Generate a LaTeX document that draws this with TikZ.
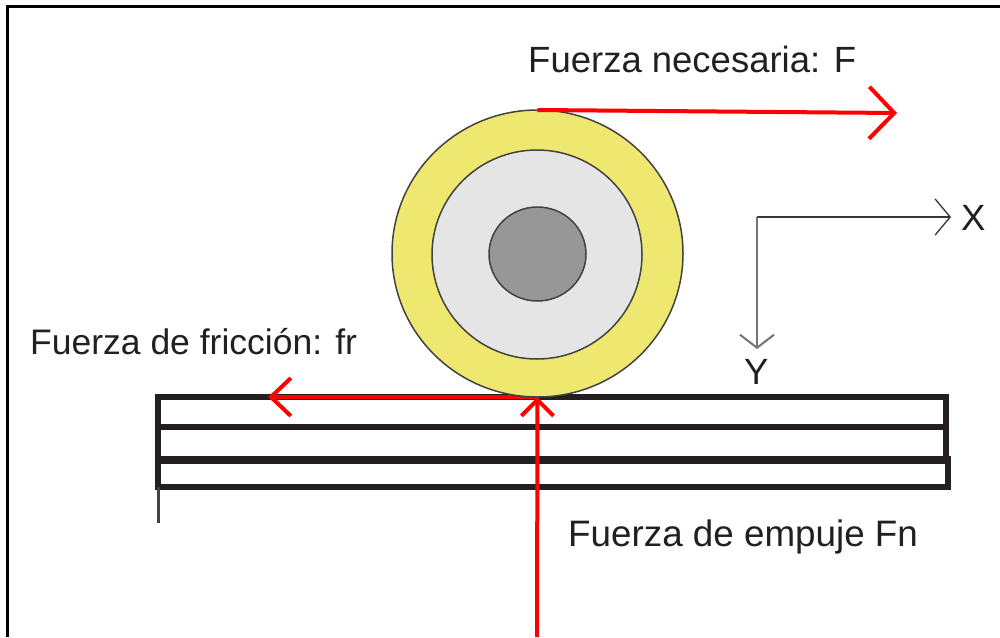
\documentclass[tikz,border=0pt]{standalone}
\usepackage{fontspec}
\setmainfont{Liberation Sans}
\usetikzlibrary{arrows.meta,shapes.geometric}
\definecolor{wheelyellow}{HTML}{EEE870}
\definecolor{wheelgrey}{HTML}{E5E5E5}
\definecolor{coregrey}{HTML}{979797}
\definecolor{plateblack}{HTML}{231F20}
\definecolor{forcered}{HTML}{FF0000}
\tikzset{
  plate/.style={draw=plateblack,line width=5.5pt,line cap=rect},
  ring/.style={draw=plateblack!85,line width=1.5pt,ellipse,inner sep=0pt,outer sep=0pt},
  force/.style={draw=forcered,line width=4pt},
  lbl/.style={inner sep=0pt,anchor=base west,text=plateblack,font=\fontsize{36.5}{40}\selectfont},
}
\begin{document}
\begin{tikzpicture}[x=1pt,y=-1pt]
\useasboundingbox (0,0) rectangle (1000,637);
% frame
\coordinate (fbl) at (7.5,637);
\coordinate (ftl) at (7.5,6.5);
\coordinate (ftr) at (1000,6.5);
\draw[black,line width=3pt] (fbl) -- (ftl) -- (ftr);
% plates
\coordinate (p1l) at (158,397); \coordinate (p1r) at (946,397);
\coordinate (p2l) at (158,427); \coordinate (p2r) at (946,427);
\coordinate (p3l) at (158,460); \coordinate (p3m) at (946,460); \coordinate (p3r) at (948,460);
\coordinate (p3a) at (156,460); \coordinate (p3b) at (950.5,460);
\coordinate (p4l) at (158,487); \coordinate (p4r) at (948,487);
\coordinate (tail) at (158,523);
\draw[plate] (p1l) -- (p1r) -- (p3m);
\draw[plate] (p1l) -- (p4l);
\draw[plate,line cap=butt] (p2l) -- (p2r);
\draw[plate,line cap=butt,line width=7.5pt] (p3a) -- (p3b);
\draw[plate] (p4l) -- (p4r) -- (p3r);
\draw[draw=plateblack!85,line width=3pt] (p4l) -- (tail);
% friction arrow
\coordinate (contact) at (537,397);
\coordinate (frtip) at (268,397);
\draw[force,-{Straight Barb[length=20pt,width=38pt]}] (contact) -- (frtip);
% wheel
\node[ring,fill=wheelyellow,minimum width=291pt,minimum height=287pt] (wheel) at (537.5,253.5) {};
\node[ring,fill=wheelgrey,minimum width=210pt,minimum height=209pt] (inner) at (537,254.5) {};
\node[ring,fill=coregrey,minimum width=97pt,minimum height=94pt] (core) at (537.5,254) {};
% forces
\coordinate (ftip) at (897,113);
\coordinate (fnbase) at (537,637);
\draw[force,-{Straight Barb[length=25pt,width=52pt]}] (wheel.north) -- (ftip);
\draw[force,-{Straight Barb[length=16pt,width=32pt]}] (fnbase) -- (wheel.south);
% axes
\coordinate (o) at (757,217);
\coordinate (xend) at (951,217);
\coordinate (yend) at (757,349);
\draw[draw=plateblack!90,line width=1.3pt,-{Straight Barb[length=15pt,width=36pt]}] (o) -- (xend);
\draw[draw=black!55,line width=2pt,-{Straight Barb[length=13pt,width=34pt]}] (o) -- (yend);
% labels
\node[lbl] (lF) at (528,72) {Fuerza necesaria: F};
\node[lbl,font=\fontsize{35.5}{40}\selectfont] (lfr) at (30,354) {Fuerza de fricción: fr};
\node[lbl,font=\fontsize{36.8}{40}\selectfont] (lFn) at (568,546) {Fuerza de empuje Fn};
\node[lbl] (lX) at (961,230) {X};
\node[lbl] (lY) at (744,384) {Y};
\end{tikzpicture}
\end{document}
